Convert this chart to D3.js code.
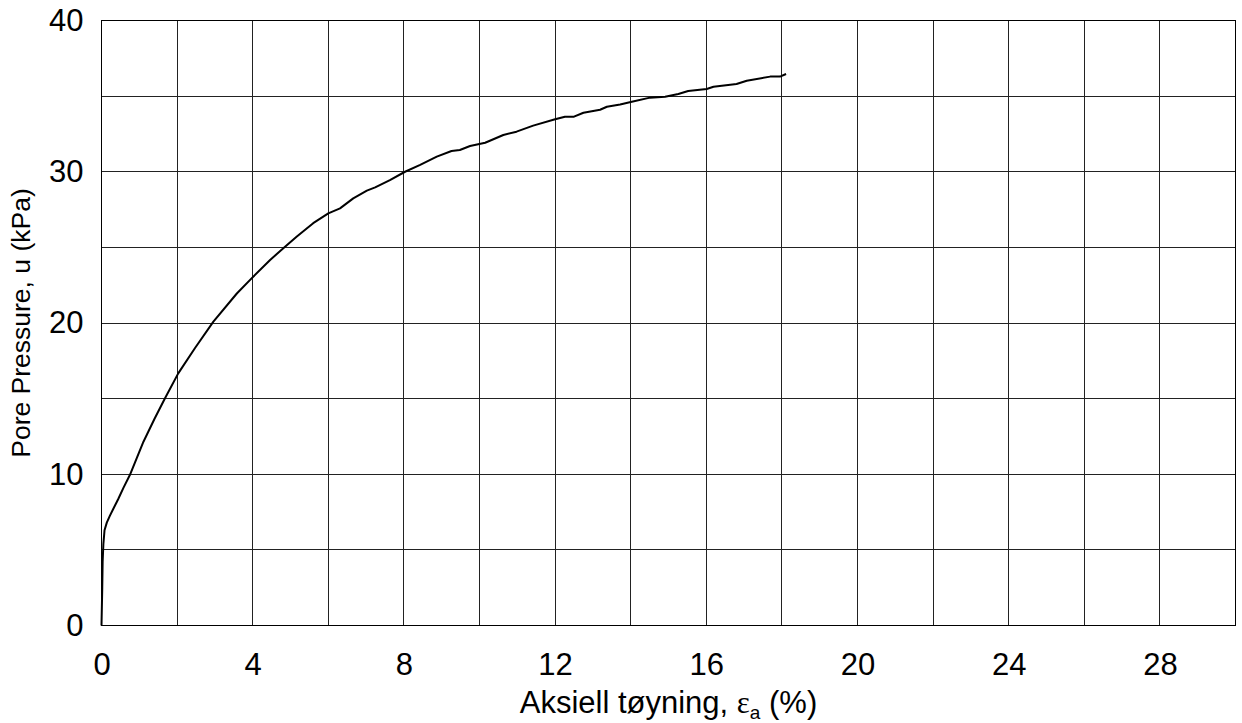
<!DOCTYPE html>
<html>
<head>
<meta charset="utf-8">
<script src="https://cdn.jsdelivr.net/npm/d3@7"></script>
<style>
  body { margin: 0; background: #fff; }
  text { font-family: "Liberation Sans", Arial, sans-serif; fill: #000; }
</style>
</head>
<body>
<div id="chart"></div>
<script>
// axial strain (%) and pore pressure (kPa)
var strain = [0, 0.02, 0.03, 0.05, 0.08, 0.14, 0.22, 0.31, 0.44, 0.58, 0.75, 0.93, 1.11, 1.4,
  1.68, 2.03, 2.47, 2.96, 3.58, 3.97, 4.46, 4.81, 5.16, 5.6, 6.0, 6.31, 6.66, 7.02, 7.24,
  7.63, 8.03, 8.43, 8.87, 9.26, 9.48, 9.75, 10.15, 10.63, 10.98, 11.42, 12.0, 12.26, 12.5,
  12.75, 13.19, 13.37, 13.72, 14.03, 14.51, 14.91, 15.26, 15.52, 16.01, 16.19, 16.8, 17.07,
  17.69, 17.95, 18.11];
var porePressure = [0, 2.5, 4.2, 5.4, 6.3, 6.8, 7.25, 7.7, 8.35, 9.1, 9.95, 11.05, 12.15, 13.65,
  15.02, 16.67, 18.33, 20.09, 21.95, 22.95, 24.17, 24.94, 25.7, 26.6, 27.25, 27.58, 28.24,
  28.75, 28.97, 29.45, 30.0, 30.45, 31.0, 31.37, 31.44, 31.7, 31.92, 32.43, 32.65, 33.05,
  33.47, 33.64, 33.64, 33.9, 34.1, 34.3, 34.45, 34.63, 34.9, 34.96, 35.14, 35.34, 35.47,
  35.62, 35.8, 36.02, 36.29, 36.29, 36.46];

var xGridTicks = d3.range(0, 31, 2);
var xLabelTicks = [0, 4, 8, 12, 16, 20, 24, 28];
var yGridTicks = [0, 5, 10, 15, 20, 25, 30, 35, 40];
var yLabelTicks = [0, 10, 20, 30, 40];

var W = 1242, H = 723;
var margin = { left: 101.5, top: 20.5 };
var width = 1134, height = 605;

var svg = d3.select("#chart").append("svg")
  .attr("width", W)
  .attr("height", H);

var g = svg.append("g")
  .attr("transform", "translate(" + margin.left + "," + margin.top + ")");

var x = d3.scaleLinear().domain([0, 30]).range([0, width]);
var y = d3.scaleLinear().domain([0, 40]).range([height, 0]);

// grid
g.append("g").attr("class", "grid")
  .selectAll("line.v")
  .data(xGridTicks)
  .enter().append("line")
  .attr("x1", d => Math.round(x(d)))
  .attr("x2", d => Math.round(x(d)))
  .attr("y1", 0)
  .attr("y2", height)
  .attr("stroke", "#222")
  .attr("stroke-width", 1);

g.select("g.grid")
  .selectAll("line.h")
  .data(yGridTicks)
  .enter().append("line")
  .attr("x1", 0)
  .attr("x2", width)
  .attr("y1", d => Math.round(y(d)))
  .attr("y2", d => Math.round(y(d)))
  .attr("stroke", "#222")
  .attr("stroke-width", 1);

// border
g.append("rect")
  .attr("x", 0).attr("y", 0)
  .attr("width", width).attr("height", height)
  .attr("fill", "none")
  .attr("stroke", "#000")
  .attr("stroke-width", 1);

// tick labels
var xAxis = g.append("g")
  .attr("transform", "translate(0," + height + ")")
  .call(d3.axisBottom(x).tickValues(xLabelTicks).tickSize(0).tickPadding(27).tickFormat(d3.format("d")));
var yAxis = g.append("g")
  .call(d3.axisLeft(y).tickValues(yLabelTicks).tickSize(0).tickPadding(18).tickFormat(d3.format("d")));

[xAxis, yAxis].forEach(function(a) {
  a.select(".domain").remove();
  a.selectAll("text")
    .attr("font-family", "Liberation Sans, Arial, sans-serif")
    .attr("font-size", 31)
    .attr("fill", "#000");
});

// curve
var line = d3.line()
  .x((d, i) => x(strain[i]))
  .y(d => y(d));

g.append("path")
  .datum(porePressure)
  .attr("d", line)
  .attr("fill", "none")
  .attr("stroke", "#000")
  .attr("stroke-width", 2)
  .attr("stroke-linejoin", "round");

// axis titles
var xt = svg.append("text")
  .attr("x", margin.left + width / 2)
  .attr("y", 713)
  .attr("text-anchor", "middle")
  .attr("font-size", 31);
xt.append("tspan").text("Aksiell tøyning, ");
xt.append("tspan").attr("font-family", "Liberation Serif, serif").text("ε");
xt.append("tspan").attr("font-size", 19).attr("dy", 6).text("a");
xt.append("tspan").attr("dy", -6).text(" (%)");

svg.append("text")
  .attr("transform", "translate(30," + (margin.top + height / 2) + ") rotate(-90)")
  .attr("text-anchor", "middle")
  .attr("font-size", 26.5)
  .text("Pore Pressure, u (kPa)");
</script>
</body>
</html>
